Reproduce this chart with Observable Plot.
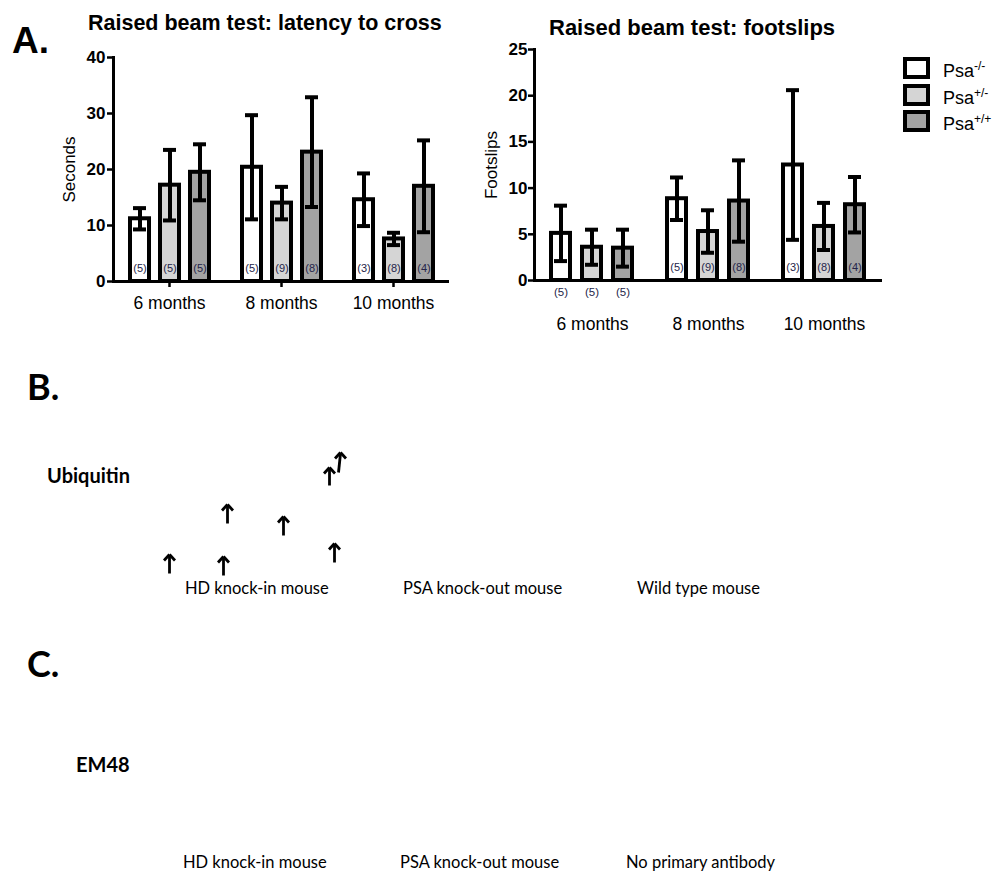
<!DOCTYPE html>
<html><head><meta charset="utf-8">
<script src="https://cdn.jsdelivr.net/npm/d3@7"></script>
<script src="https://cdn.jsdelivr.net/npm/@observablehq/plot@0.6"></script>
<style>
html,body{margin:0;padding:0;background:#fff;}
#page{position:relative;width:1001px;height:873px;overflow:hidden;background:#fff;font-family:"Liberation Sans",Arial,sans-serif;color:#000;}
.abs{position:absolute;white-space:nowrap;line-height:1;}
.title{font-weight:bold;font-size:21.5px;}
.panelA{font-weight:bold;font-size:37px;}
.cal{font-family:Lato,"Open Sans",sans-serif;}
.panelBC{font-weight:bold;font-size:36px;}
.stain{font-weight:bold;font-size:20px;}
.cap{font-size:16.5px;}
.sq{position:absolute;width:19px;height:14px;border:4px solid #000;}
.leg{font-size:18px;}
.leg sup{font-size:12px;position:relative;top:-2px;vertical-align:top;}
.chart g[aria-label="y-axis tick label"]{font-weight:bold;font-size:17px;}
.chart g[aria-label="y-axis label"]{font-weight:normal;font-size:17px;}
.chart g[aria-label="fx-axis tick label"]{font-size:17.5px;}
</style>
</head><body>
<div id="page">
  <div class="abs panelA" style="left:12px;top:22px">A.</div>
  <div class="abs title" style="left:88px;top:13px">Raised beam test: latency to cross</div>
  <div class="abs title" style="left:549px;top:17px;font-size:22px">Raised beam test: footslips</div>
  <div id="left" class="abs chart" style="left:0;top:0;width:460px;"></div>
  <div id="right" class="abs chart" style="left:440px;top:0;width:455px;"></div>
  <div id="legend"></div>
  <div id="arrows" class="abs" style="left:0;top:360px;width:400px;"></div>
  <div class="abs cal panelBC" style="left:27px;top:368px">B.</div>
  <div class="abs cal stain" style="left:47px;top:465px">Ubiquitin</div>
  <div class="abs cal cap" style="left:185px;top:580px">HD knock-in mouse</div>
  <div class="abs cal cap" style="left:403px;top:580px">PSA knock-out mouse</div>
  <div class="abs cal cap" style="left:637px;top:580px">Wild type mouse</div>
  <div class="abs cal panelBC" style="left:27px;top:645px">C.</div>
  <div class="abs cal stain" style="left:76px;top:754px">EM48</div>
  <div class="abs cal cap" style="left:183px;top:854px">HD knock-in mouse</div>
  <div class="abs cal cap" style="left:400px;top:854px">PSA knock-out mouse</div>
  <div class="abs cal cap" style="left:626px;top:854px">No primary antibody</div>
</div>
<script>
// ---- data ----
const months = ["6 months", "8 months", "10 months"];
const genotypes = ["-/-", "+/-", "+/+"];
const fills = ["#ffffff", "#d5d5d5", "#a3a3a3"];
// month-major order: 6m (-/-, +/-, +/+), 8m (...), 10m (...)
const nMice = [5, 5, 5, 5, 9, 8, 3, 8, 4];
const latencyMean = [11.2, 17.2, 19.5, 20.4, 14.0, 23.1, 14.6, 7.6, 17.0];
const latencySEM  = [1.9, 6.3, 5.0, 9.3, 2.9, 9.8, 4.7, 1.1, 8.2];
const footslipMean = [5.1, 3.6, 3.5, 8.85, 5.3, 8.6, 12.5, 5.85, 8.2];
const footslipSEM  = [3.0, 1.9, 2.0, 2.3, 2.3, 4.4, 8.1, 2.55, 3.0];
const latencyTicks = [0, 10, 20, 30, 40];
const footslipTicks = [0, 5, 10, 15, 20, 25];
// panel B arrow annotations (base -> tip), in panel pixel units
const arrowBaseX = [169, 223, 227, 283, 329, 338, 334];
const arrowBaseY = [213, 215, 163, 175, 125, 112, 202];
const arrowTipX  = [169, 223, 227, 283, 329, 340, 334];
const arrowTipY  = [194, 196, 144, 156, 107, 92, 183];

function table(means, sems) {
  return months.flatMap((m, i) => genotypes.map((g, j) => ({
    month: m, genotype: g, mean: means[i * 3 + j], sem: sems[i * 3 + j], n: nMice[i * 3 + j]
  })));
}

function chart({data, yDomain, yTicks, yLabel, width, height, ml, mr, mt, mb, fxTickSize, fxTickPadding, labelOffset, yTickPadding, below}) {
  const inside = data.filter(d => !below.includes(d.month));
  const under = data.filter(d => below.includes(d.month));
  return Plot.plot({
    width, height, marginLeft: ml, marginRight: mr, marginTop: mt, marginBottom: mb,
    style: {fontFamily: "Liberation Sans, Arial, sans-serif", fontSize: "17px", color: "#000", background: "transparent", overflow: "visible"},
    fx: {domain: months, padding: 0, label: null},
    x: {domain: genotypes, paddingInner: 0.38, paddingOuter: 0.52, axis: null},
    y: {domain: yDomain},
    color: {domain: genotypes, range: fills},
    marks: [
      Plot.axisFx({anchor: "bottom", tickSize: fxTickSize, tickPadding: fxTickPadding, strokeWidth: 2.5, label: null}),
      Plot.axisY({ticks: yTicks, tickSize: 6, tickPadding: yTickPadding, strokeWidth: 2.5, label: yLabel, labelAnchor: "center", labelOffset, labelArrow: "none"}),
      Plot.frame({anchor: "left", facetAnchor: "left", strokeWidth: 3}),
      Plot.ruleY([0], {strokeWidth: 3}),
      Plot.barY(data, {fx: "month", x: "genotype", y: "mean", fill: "genotype", stroke: "#000", strokeWidth: 4}),
      Plot.ruleX(data, {fx: "month", x: "genotype", y1: d => d.mean - d.sem, y2: d => d.mean + d.sem, strokeWidth: 4}),
      Plot.tickY(data, {fx: "month", x: "genotype", y: d => d.mean + d.sem, strokeWidth: 4, insetLeft: 3, insetRight: 3}),
      Plot.tickY(data, {fx: "month", x: "genotype", y: d => d.mean - d.sem, strokeWidth: 4, insetLeft: 3, insetRight: 3}),
      Plot.text(inside, {fx: "month", x: "genotype", y: () => 0, dy: -13, text: d => `(${d.n})`, fontSize: 11, fill: "#25254a"}),
      Plot.text(under, {fx: "month", x: "genotype", y: () => 0, dy: 12, text: d => `(${d.n})`, fontSize: 11.5, fill: "#25254a"})
    ]
  });
}

document.getElementById("left").append(chart({
  data: table(latencyMean, latencySEM), yDomain: [0, 40], yTicks: latencyTicks, yLabel: "Seconds",
  width: 460, height: 320, ml: 113, mr: 11, mt: 57, mb: 39, fxTickSize: 6, fxTickPadding: 9, labelOffset: 51, yTickPadding: 2, below: []
}));
document.getElementById("right").append(chart({
  data: table(footslipMean, footslipSEM), yDomain: [0, 25], yTicks: footslipTicks, yLabel: "Footslips",
  width: 455, height: 340, ml: 93, mr: 13, mt: 49, mb: 60, fxTickSize: 0, fxTickPadding: 37, labelOffset: 50, yTickPadding: 1, below: ["6 months"]
}));

// legend
const legend = document.getElementById("legend");
const legTops = [57, 84, 110];
genotypes.forEach((g, i) => {
  const sq = document.createElement("div");
  sq.className = "sq";
  sq.style.left = "903px"; sq.style.top = legTops[i] + "px"; sq.style.background = fills[i];
  legend.append(sq);
  const t = document.createElement("div");
  t.className = "abs leg";
  t.style.left = "943px"; t.style.top = (legTops[i] + 5) + "px";
  t.innerHTML = `Psa<sup>${g}</sup>`;
  legend.append(t);
});

// arrows of panel B: stem plus a chevron head at the tip
const arrowData = arrowBaseX.map((x, i) => ({x1: x, y1: arrowBaseY[i], x2: arrowTipX[i], y2: arrowTipY[i]}));
const headW = 5.5, headD = 6;
const arrowStyle = {stroke: "#000", strokeWidth: 2.8, strokeLinecap: "butt"};
document.getElementById("arrows").append(Plot.plot({
  width: 400, height: 260, margin: 0,
  style: {background: "transparent", overflow: "visible"},
  x: {type: "identity", axis: null}, y: {type: "identity", axis: null},
  marks: [
    Plot.link(arrowData, {x1: "x1", y1: "y1", x2: "x2", y2: d => d.y2 + 1, ...arrowStyle}),
    Plot.link(arrowData, {x1: d => d.x2 - headW, y1: d => d.y2 + headD, x2: "x2", y2: "y2", ...arrowStyle}),
    Plot.link(arrowData, {x1: d => d.x2 + headW, y1: d => d.y2 + headD, x2: "x2", y2: "y2", ...arrowStyle})
  ]
}));
</script>
</body></html>
